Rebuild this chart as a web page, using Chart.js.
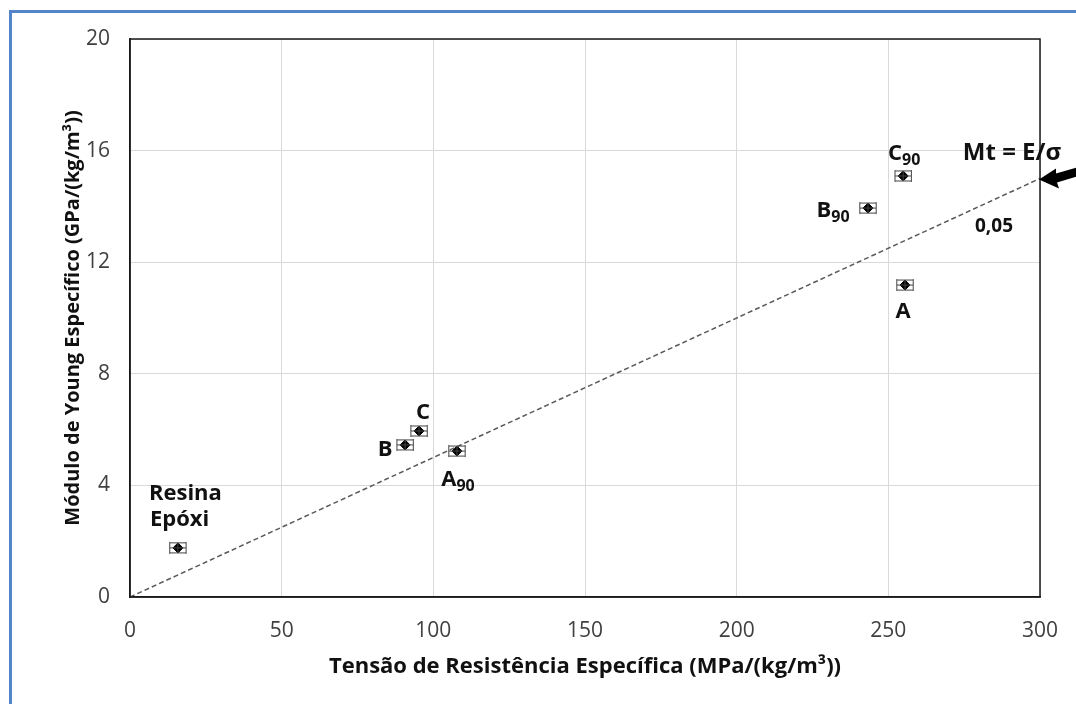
<!DOCTYPE html>
<html>
<head>
<meta charset="utf-8">
<script src="https://cdn.jsdelivr.net/npm/chart.js"></script>
<style>
  html, body { margin: 0; padding: 0; background: #fff; overflow: hidden; }
  #frame { position: absolute; left: 9px; top: 10px; width: 2000px; height: 2000px; border: 3px solid #5585c9; }
  #wrap { position: absolute; left: 0; top: 0; width: 1076px; height: 704px; }
</style>
</head>
<body>
<div id="frame"></div>
<div id="wrap"><canvas id="c"></canvas></div>
<script>
// samples: specific strength (x) vs specific modulus (y)
const names = ['Resina Epóxi', 'B', 'C', 'A90', 'B90', 'C90', 'A'];
const xVals = [15.8, 90.7, 95.3, 107.8, 243.3, 254.9, 255.5];
const yVals = [1.76, 5.45, 5.95, 5.23, 13.94, 15.09, 11.18];
const xErr = [2.7, 2.7, 2.7, 2.7, 2.7, 2.7, 2.7];
const yErr = [0.18, 0.18, 0.18, 0.18, 0.18, 0.18, 0.18];

// Mt = E/sigma line
const lineX = [0, 300];
const lineY = [0, 15];
const slopeText = '0,05';

const xTicks = [0, 50, 100, 150, 200, 250, 300];
const yTicks = [0, 4, 8, 12, 16, 20];

// label text parts: [main, subscript] and pixel offsets from the point
const labelParts = [[['Resina', ''], ['Epóxi', '']], [['B', '']], [['C', '']], [['A', '90']], [['B', '90']], [['C', '90']], [['A', '']]];
const labelOffsets = [[[-29, -54, 'left'], [-28, -28, 'left']], [[-20, 5]], [[4, -18]], [[1, 29]], [[-35, 3]], [[1, -22]], [[-2, 27]]];

const FONT = '"Open Sans", "Noto Sans", sans-serif';

const extras = {
  id: 'extras',
  afterDatasetsDraw(chart) {
    const {ctx, chartArea: a, scales: {x, y}} = chart;
    ctx.save();
    // frame around plot
    ctx.strokeStyle = '#1a1a1a';
    ctx.lineWidth = 1.5;
    ctx.strokeRect(a.left, a.top, a.right - a.left, a.bottom - a.top);

    // error bars
    ctx.strokeStyle = '#444';
    ctx.lineWidth = 1;
    for (let i = 0; i < xVals.length; i++) {
      const px = x.getPixelForValue(xVals[i]);
      const py = y.getPixelForValue(yVals[i]);
      const x0 = x.getPixelForValue(xVals[i] - xErr[i]);
      const x1 = x.getPixelForValue(xVals[i] + xErr[i]);
      const y0 = y.getPixelForValue(yVals[i] - yErr[i]);
      const y1 = y.getPixelForValue(yVals[i] + yErr[i]);
      const capH = 6, capW = 8;
      ctx.beginPath();
      ctx.moveTo(x0, py); ctx.lineTo(x1, py);
      ctx.moveTo(x0, py - capH); ctx.lineTo(x0, py + capH);
      ctx.moveTo(x1, py - capH); ctx.lineTo(x1, py + capH);
      ctx.moveTo(px, y0); ctx.lineTo(px, y1);
      ctx.moveTo(px - capW, y0); ctx.lineTo(px + capW, y0);
      ctx.moveTo(px - capW, y1); ctx.lineTo(px + capW, y1);
      ctx.stroke();
    }

    // point labels
    ctx.fillStyle = '#111';
    ctx.textBaseline = 'middle';
    for (let i = 0; i < xVals.length; i++) {
      const px = x.getPixelForValue(xVals[i]);
      const py = y.getPixelForValue(yVals[i]);
      labelParts[i].forEach((p, j) => {
        const [dx, dy, al] = labelOffsets[i][j];
        ctx.font = 'bold 22px ' + FONT;
        const w1 = ctx.measureText(p[0]).width;
        ctx.font = 'bold 16px ' + FONT;
        const w2 = p[1] ? ctx.measureText(p[1]).width : 0;
        const total = w1 + w2;
        let sx = px + dx - (al === 'left' ? 0 : total / 2);
        ctx.textAlign = 'left';
        ctx.font = 'bold 22px ' + FONT;
        ctx.fillText(p[0], sx, py + dy);
        if (p[1]) {
          ctx.font = 'bold 16px ' + FONT;
          ctx.fillText(p[1], sx + w1, py + dy + 6);
        }
      });
    }

    // Mt = E/sigma annotation and slope
    const ex = x.getPixelForValue(lineX[1]);
    const ey = y.getPixelForValue(lineY[1]);
    ctx.textAlign = 'center';
    ctx.font = 'bold 24px ' + FONT;
    ctx.fillText('Mt = E/σ', ex - 28, ey - 25);
    ctx.font = 'bold 19px ' + FONT;
    ctx.fillText(slopeText, ex - 46, ey + 48);

    // arrow pointing at line end
    ctx.fillStyle = '#000';
    ctx.beginPath();
    ctx.moveTo(ex - 1, ey + 1);
    ctx.lineTo(ex + 16, ey - 10);
    ctx.lineTo(ex + 16, ey - 5);
    ctx.lineTo(ex + 40, ey - 12);
    ctx.lineTo(ex + 40, ey - 3);
    ctx.lineTo(ex + 17, ey + 4);
    ctx.lineTo(ex + 19, ey + 10);
    ctx.closePath();
    ctx.fill();
    ctx.restore();
  }
};

new Chart(document.getElementById('c'), {
  type: 'scatter',
  data: {
    datasets: [
      {
        type: 'line',
        data: lineX.map((v, i) => ({x: v, y: lineY[i]})),
        borderColor: '#595959',
        borderWidth: 1.5,
        borderDash: [5, 3],
        pointRadius: 0,
        fill: false
      },
      {
        data: xVals.map((v, i) => ({x: v, y: yVals[i]})),
        pointStyle: 'rectRot',
        pointRadius: 5,
        backgroundColor: '#000',
        borderColor: '#000',
        borderWidth: 1
      }
    ]
  },
  options: {
    responsive: true,
    maintainAspectRatio: false,
    animation: false,
    layout: { padding: { top: 39, right: 36, bottom: 0, left: 0 } },
    plugins: { legend: { display: false }, tooltip: { enabled: false } },
    scales: {
      x: {
        type: 'linear', min: 0, max: 300,
        afterBuildTicks: s => { s.ticks = xTicks.map(v => ({value: v})); },
        afterFit: s => { s.height = 107; s.paddingLeft = 0; s.paddingRight = 0; },
        grid: { color: '#d9d9d9', lineWidth: 1, drawTicks: false },
        border: { color: '#1a1a1a', width: 1.5 },
        ticks: { padding: 21, color: '#404040', font: { family: FONT, size: 21 } },
        title: { display: true, text: 'Tensão de Resistência Específica (MPa/(kg/m³))', color: '#111',
                 font: { family: FONT, size: 22, weight: 'bold' }, padding: { top: 0, bottom: 24 } }
      },
      y: {
        type: 'linear', min: 0, max: 20,
        afterBuildTicks: s => { s.ticks = yTicks.map(v => ({value: v})); },
        afterFit: s => { s.width = 130; s.paddingTop = 0; s.paddingBottom = 0; },
        grid: { color: '#d9d9d9', lineWidth: 1, drawTicks: false },
        border: { color: '#1a1a1a', width: 1.5 },
        ticks: { padding: 20, color: '#404040', font: { family: FONT, size: 21 } },
        title: { display: true, text: 'Módulo de Young Específico (GPa/(kg/m³))', color: '#111',
                 font: { family: FONT, size: 20, weight: 'bold' }, padding: { top: 61, bottom: 0 } }
      }
    }
  },
  plugins: [extras]
});
</script>
</body>
</html>
